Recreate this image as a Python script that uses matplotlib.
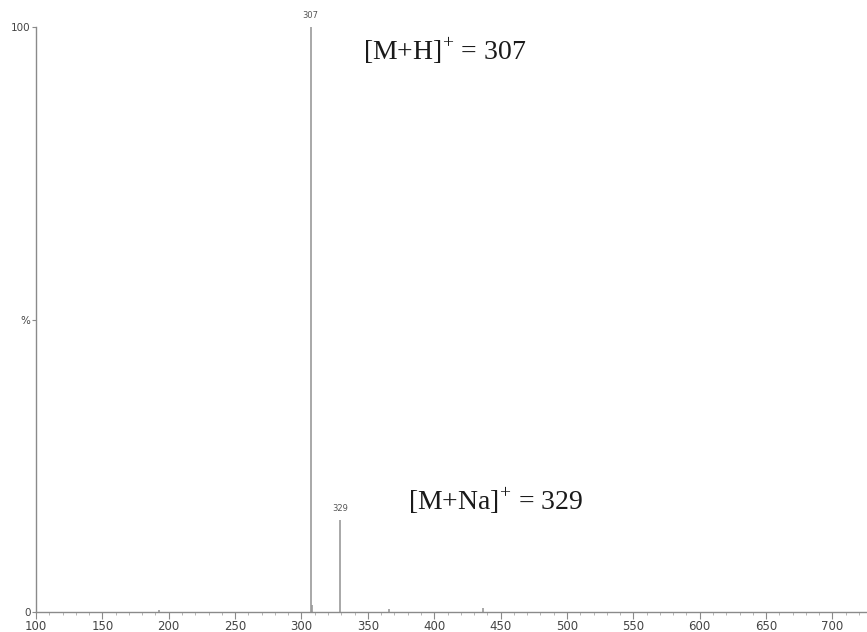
import matplotlib
matplotlib.use("Agg")
import matplotlib.pyplot as plt
import matplotlib.ticker as mtick

# spectrum peaks (m/z, relative intensity %)
mz = [193, 307, 308, 329, 366, 437]
intensity = [0.3, 100, 1.2, 15.7, 0.6, 0.7]
labelled_mz = [307, 329]
labelled_int = [100, 15.7]

y_ticks = [0, 50, 100]
y_tick_labels = ["0", "%", "100"]

ions = ["[M+H]$^{+}$ = 307", "[M+Na]$^{+}$ = 329"]
ion_pos = [(346, 96.0), (380, 19.0)]

plt.rcParams["mathtext.fontset"] = "custom"
plt.rcParams["mathtext.rm"] = "Liberation Serif"

fig = plt.figure(figsize=(8.67, 6.32), dpi=100)
ax = fig.add_axes([0.0415, 0.0316, 0.9585, 0.9257])

grey = "#8a8a8a"
ax.vlines(mz, 0, intensity, colors="#9a9a9a", linewidth=1.2)
for x, y in zip(labelled_mz, labelled_int):
    ax.text(x, y + 1.2, str(x), ha="center", va="bottom", fontsize=6, color="#555555")

for txt, (x, y) in zip(ions, ion_pos):
    ax.text(x, y, txt, fontsize=20, family="Liberation Serif", color="#1a1a1a", ha="left", va="center")

ax.set_xlim(100, 726)
ax.set_ylim(0, 100)
ax.set_yticks(y_ticks)
ax.set_yticklabels(y_tick_labels)
ax.xaxis.set_major_locator(mtick.MultipleLocator(50))
ax.xaxis.set_minor_locator(mtick.MultipleLocator(10))

for s in ("top", "right"):
    ax.spines[s].set_visible(False)
for s in ("left", "bottom"):
    ax.spines[s].set_color(grey)
    ax.spines[s].set_linewidth(1.0)

ax.tick_params(axis="x", which="major", length=5, color=grey, labelsize=8.5, labelcolor="#444444", pad=1)
ax.tick_params(axis="x", which="minor", length=2.5, color="#aaaaaa")
ax.tick_params(axis="y", which="major", length=3, color=grey, labelsize=7.5, labelcolor="#444444", pad=1)

fig.savefig("out.png", dpi=100)
